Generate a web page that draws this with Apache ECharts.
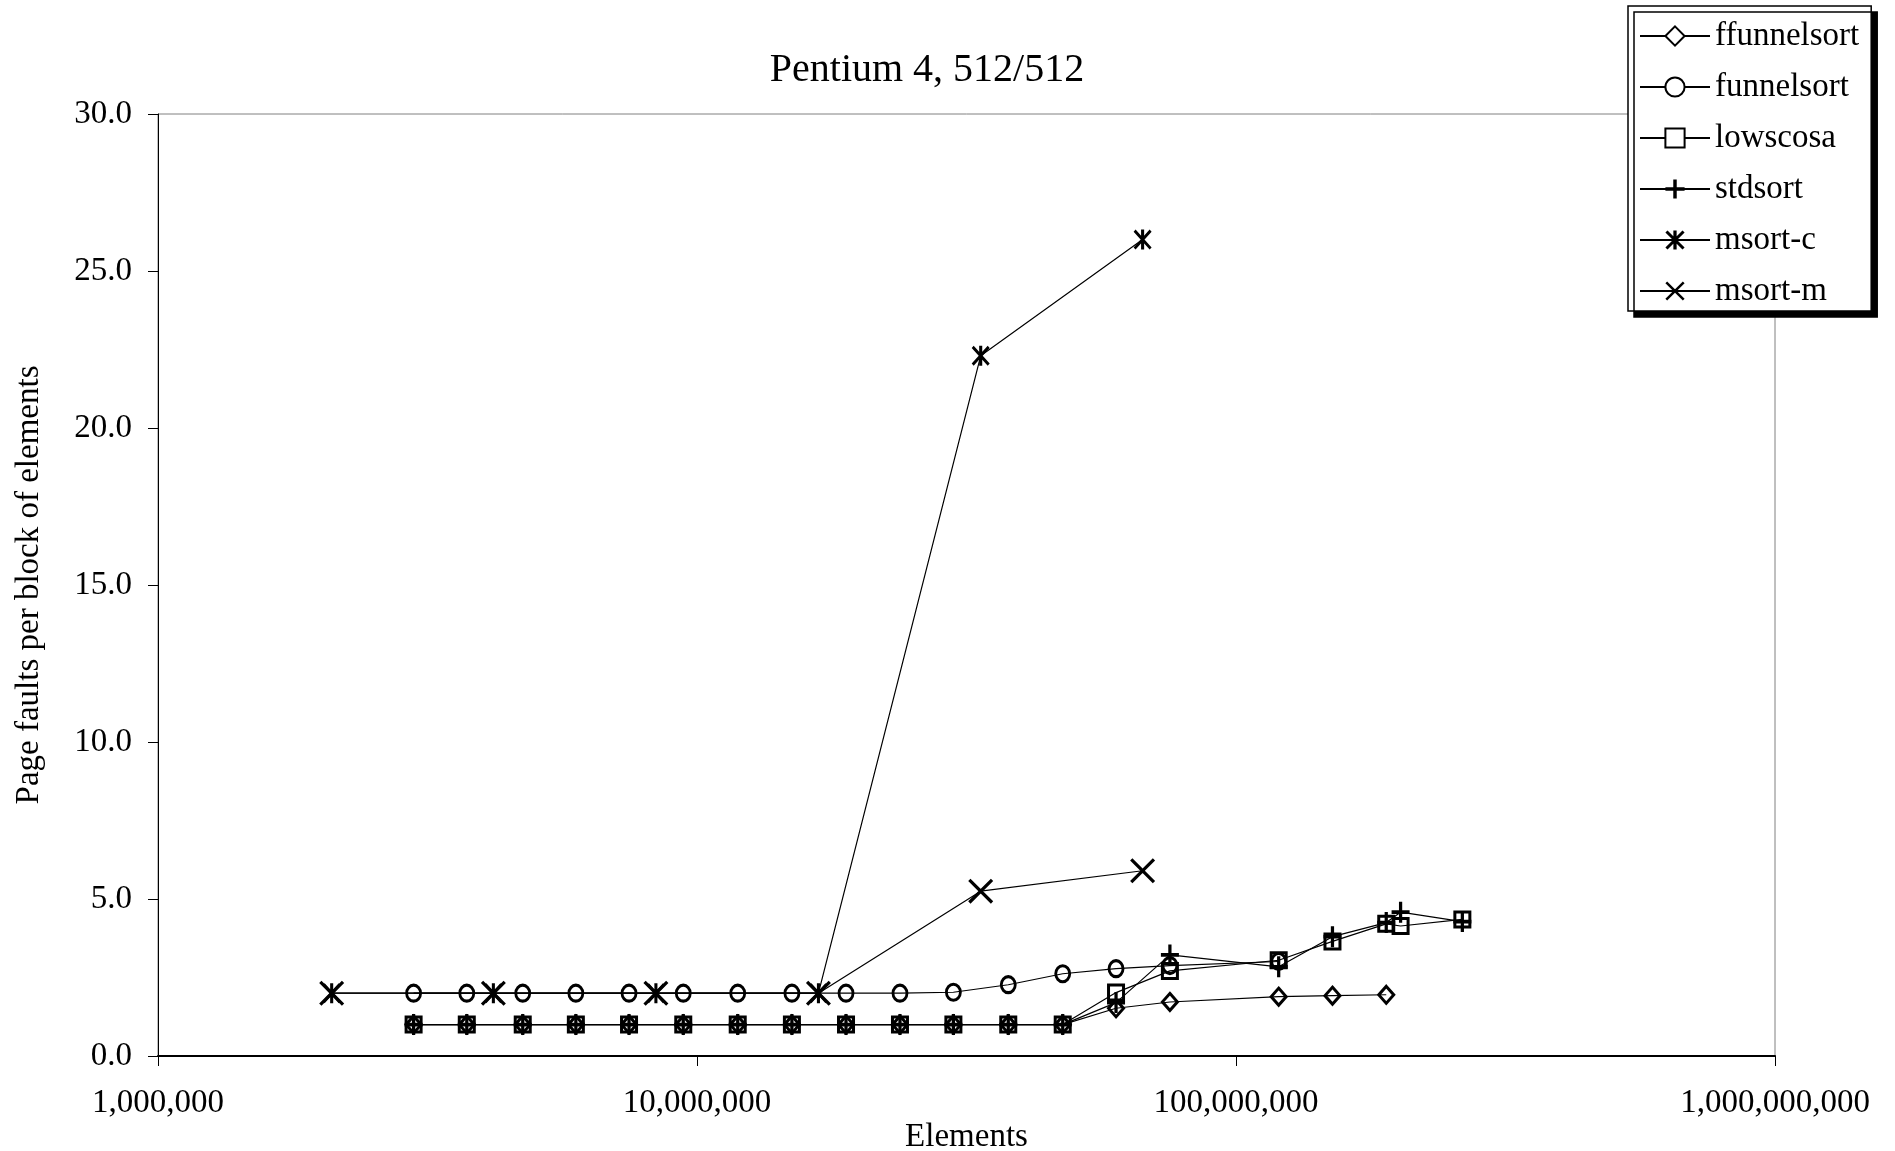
<!DOCTYPE html>
<html>
<head>
<meta charset="utf-8">
<title>Pentium 4, 512/512</title>
<script src="https://cdn.jsdelivr.net/npm/echarts@6/dist/echarts.min.js"></script>
<style>
  html, body { margin: 0; padding: 0; background: #fff; }
  #chart { width: 1895px; height: 1151px; }
</style>
</head>
<body>
<div id="chart"></div>
<script>
// element counts (x) and page faults per block (y)
const ffunnelX = [2.98e6, 3.74e6, 4.75e6, 5.96e6, 7.48e6, 9.43e6, 11.9e6, 15.0e6, 18.9e6, 23.8e6, 29.9e6, 37.8e6, 47.7e6, 59.9e6, 75.4e6, 120e6, 151e6, 190e6];
const ffunnelY = [1.0, 1.0, 1.0, 1.0, 1.0, 1.0, 1.0, 1.0, 1.0, 1.0, 1.0, 1.0, 1.0, 1.52, 1.72, 1.89, 1.92, 1.95];

const funnelX = [2.98e6, 3.74e6, 4.75e6, 5.96e6, 7.48e6, 9.43e6, 11.9e6, 15.0e6, 18.9e6, 23.8e6, 29.9e6, 37.8e6, 47.7e6, 59.9e6, 75.4e6, 120e6];
const funnelY = [2.0, 2.0, 2.0, 2.0, 2.0, 2.0, 2.0, 2.0, 2.0, 2.0, 2.03, 2.27, 2.62, 2.78, 2.88, 3.01];

const lowscosaX = [2.98e6, 3.74e6, 4.75e6, 5.96e6, 7.48e6, 9.43e6, 11.9e6, 15.0e6, 18.9e6, 23.8e6, 29.9e6, 37.8e6, 47.7e6, 59.9e6, 75.4e6, 120e6, 151e6, 190e6, 202e6, 263e6];
const lowscosaY = [1.0, 1.0, 1.0, 1.0, 1.0, 1.0, 1.0, 1.0, 1.0, 1.0, 1.0, 1.0, 1.0, 2.02, 2.71, 3.05, 3.65, 4.21, 4.14, 4.35];

const stdsortX = [2.98e6, 3.74e6, 4.75e6, 5.96e6, 7.48e6, 9.43e6, 11.9e6, 15.0e6, 18.9e6, 23.8e6, 29.9e6, 37.8e6, 47.7e6, 59.9e6, 75.4e6, 120e6, 151e6, 190e6, 202e6, 263e6];
const stdsortY = [1.0, 1.0, 1.0, 1.0, 1.0, 1.0, 1.0, 1.0, 1.0, 1.0, 1.0, 1.0, 1.0, 1.70, 3.22, 2.84, 3.8, 4.25, 4.58, 4.28];

const msortX = [2.1e6, 4.19e6, 8.39e6, 16.8e6, 33.6e6, 67.1e6];
const msortCY = [2.0, 2.0, 2.0, 2.0, 22.3, 26.0];
const msortMY = [2.0, 2.0, 2.0, 2.0, 5.25, 5.9];

const yTicks = [0, 5, 10, 15, 20, 25, 30];

const FONT = 'Liberation Serif';

// marker shapes
const plusPath = 'path://M8.2,0 L11.8,0 L11.8,8.2 L20,8.2 L20,11.8 L11.8,11.8 L11.8,20 L8.2,20 L8.2,11.8 L0,11.8 L0,8.2 L8.2,8.2 Z';
const crossPath = 'path://M0,2.2 L2.2,0 L24,21.8 L21.8,24 Z M21.8,0 L24,2.2 L2.2,24 L0,21.8 Z';
const starPath = 'path://M0,2.2 L2.2,0 L20,17.8 L17.8,20 Z M17.8,0 L20,2.2 L2.2,20 L0,17.8 Z M8.3,0 L11.7,0 L11.7,20 L8.3,20 Z';

function zip(xs, ys) {
  return xs.map(function (x, i) { return [x, ys[i]]; });
}

function makeSeries(name, xs, ys, symbol, size, hollow) {
  return {
    name: name,
    type: 'line',
    data: zip(xs, ys),
    symbol: symbol,
    symbolSize: size,
    showAllSymbol: true,
    animation: false,
    lineStyle: { color: '#000', width: 1.2 },
    itemStyle: hollow
      ? { color: 'rgba(255,255,255,0)', borderColor: '#000', borderWidth: 3 }
      : { color: '#000', borderWidth: 0 },
    emphasis: { disabled: true }
  };
}

const chart = echarts.init(document.getElementById('chart'));

chart.setOption({
  backgroundColor: '#fff',
  animation: false,
  title: {
    text: 'Pentium 4, 512/512',
    left: 922,
    top: 45,
    textAlign: 'center',
    textStyle: { fontFamily: FONT, fontSize: 40, fontWeight: 'normal', color: '#000' }
  },
  legend: {
    orient: 'vertical',
    left: 1628,
    top: 6,
    padding: [13, 12, 3, 11],
    itemGap: 17,
    itemWidth: 70,
    itemHeight: 24,
    backgroundColor: '#fff',
    borderColor: '#000',
    borderWidth: 1.5,
    shadowColor: '#000',
    shadowBlur: 0,
    shadowOffsetX: 6,
    shadowOffsetY: 6,
    textStyle: { fontFamily: FONT, fontSize: 33, color: '#000', lineHeight: 34 },
    data: [
      { name: 'ffunnelsort', itemStyle: { color: '#fff' } },
      { name: 'funnelsort', itemStyle: { color: '#fff' } },
      { name: 'lowscosa', itemStyle: { color: '#fff' } },
      { name: 'stdsort' },
      { name: 'msort-c' },
      { name: 'msort-m' }
    ]
  },
  grid: {
    left: 158,
    right: 120,
    top: 114,
    bottom: 95,
    outerBoundsMode: 'none',
    containLabel: false,
    show: true,
    borderColor: '#808080',
    borderWidth: 1,
    backgroundColor: 'transparent'
  },
  xAxis: {
    type: 'log',
    logBase: 10,
    min: 1e6,
    max: 1e9,
    name: 'Elements',
    nameLocation: 'middle',
    nameGap: 65,
    nameMoveOverlap: false,
    nameTextStyle: { fontFamily: FONT, fontSize: 33, color: '#000' },
    axisLine: { show: true, onZero: false, lineStyle: { color: '#000', width: 2 } },
    axisTick: { show: true, inside: false, length: 10, lineStyle: { color: '#000', width: 1 } },
    minorTick: { show: false },
    splitLine: { show: false },
    axisLabel: {
      margin: 31,
      fontFamily: FONT,
      fontSize: 33,
      color: '#000',
      showMinLabel: true,
      showMaxLabel: true,
      formatter: function (v) {
        return String(Math.round(v)).replace(/\B(?=(\d{3})+(?!\d))/g, ',');
      }
    }
  },
  yAxis: {
    type: 'value',
    min: yTicks[0],
    max: yTicks[yTicks.length - 1],
    interval: 5,
    name: 'Page faults per block of elements',
    nameLocation: 'middle',
    nameGap: 112,
    nameMoveOverlap: false,
    nameTextStyle: { fontFamily: FONT, fontSize: 33, color: '#000' },
    axisLine: { show: true, lineStyle: { color: '#000', width: 1 } },
    axisTick: { show: true, inside: false, length: 10, lineStyle: { color: '#000', width: 1 } },
    splitLine: { show: false },
    axisLabel: {
      margin: 26,
      fontFamily: FONT,
      fontSize: 33,
      color: '#000',
      formatter: function (v) { return v.toFixed(1); }
    }
  },
  series: [
    makeSeries('ffunnelsort', ffunnelX, ffunnelY, 'diamond', [15, 17], true),
    makeSeries('funnelsort', funnelX, funnelY, 'circle', [14, 16], true),
    makeSeries('lowscosa', lowscosaX, lowscosaY, 'rect', [15, 15], true),
    makeSeries('stdsort', stdsortX, stdsortY, plusPath, [18, 21], false),
    makeSeries('msort-c', msortX, msortCY, starPath, [18, 20], false),
    makeSeries('msort-m', msortX, msortMY, crossPath, [25, 25], false)
  ]
});
</script>
</body>
</html>
